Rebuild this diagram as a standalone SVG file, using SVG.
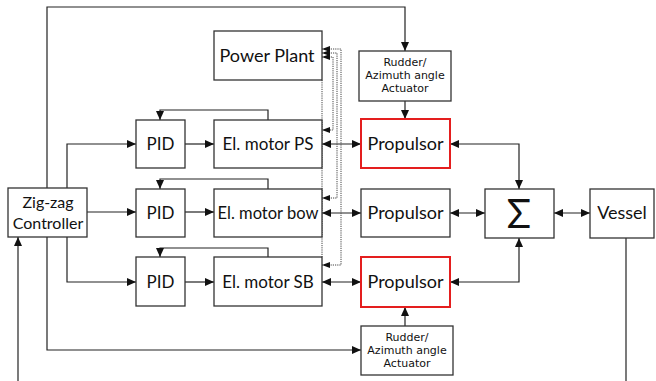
<svg xmlns="http://www.w3.org/2000/svg" width="656" height="381" viewBox="0 0 656 381">
<style>
.box{fill:#fff;stroke:#333;stroke-width:1.3}
.red{fill:#fff;stroke:#e41e1e;stroke-width:2}
.lbl{font-family:Lato,"Open Sans",sans-serif;font-size:17px;fill:#111;text-anchor:middle}
.sm{font-family:"DejaVu Sans",sans-serif;font-size:11px;fill:#111;text-anchor:middle}
.ln{fill:none;stroke:#222;stroke-width:1.2}
.dot{fill:none;stroke:#444;stroke-width:1;stroke-dasharray:1.2,1}
</style>
<defs>
<marker id="a" markerUnits="userSpaceOnUse" markerWidth="10" markerHeight="8" refX="9" refY="4" orient="auto-start-reverse">
<path d="M0,0 L9,4 L0,8 Z" fill="#111"/>
</marker>
<marker id="s" markerUnits="userSpaceOnUse" markerWidth="9" markerHeight="6" refX="8" refY="3" orient="auto-start-reverse">
<path d="M0,0 L8,3 L0,6 Z" fill="#111"/>
</marker>
</defs>
<g id="connectors">
<path class="ln" d="M47,188 V7 H405 V51" marker-end="url(#a)"/>
<path class="ln" d="M47,237 V350 H361" marker-end="url(#a)"/>
<path class="ln" d="M18,381 V237" marker-end="url(#a)"/>
<path class="ln" d="M87,212 H136" marker-end="url(#a)"/>
<path class="ln" d="M67,188 V144 H136" marker-end="url(#a)"/>
<path class="ln" d="M67,237 V282 H136" marker-end="url(#a)"/>
<path class="ln" d="M185,144 H214" marker-end="url(#a)"/>
<path class="ln" d="M185,212 H214" marker-end="url(#a)"/>
<path class="ln" d="M185,282 H214" marker-end="url(#a)"/>
<path class="ln" d="M268,120 V110 H160 V120" marker-end="url(#a)"/>
<path class="ln" d="M268,189 V179 H160 V189" marker-end="url(#a)"/>
<path class="ln" d="M268,257 V248 H160 V257" marker-end="url(#a)"/>
<path class="ln" d="M322,144 H361" marker-start="url(#a)" marker-end="url(#a)"/>
<path class="ln" d="M322,213 H361" marker-start="url(#a)" marker-end="url(#a)"/>
<path class="ln" d="M322,282 H361" marker-start="url(#a)" marker-end="url(#a)"/>
<path class="ln" d="M405,101 V119" marker-end="url(#a)"/>
<path class="ln" d="M405,326 V307" marker-end="url(#a)"/>
<path class="ln" d="M450,144 H519 V189" marker-start="url(#a)" marker-end="url(#a)"/>
<path class="ln" d="M450,213 H485" marker-start="url(#a)" marker-end="url(#a)"/>
<path class="ln" d="M450,282 H519 V238" marker-start="url(#a)" marker-end="url(#a)"/>
<path class="ln" d="M554,213 H590" marker-start="url(#a)" marker-end="url(#a)"/>
<path class="ln" d="M626,238 V381"/>
<path class="dot" d="M322,80 V257"/>
<path class="dot" d="M322,49 H341 V265 H322" marker-start="url(#s)" marker-end="url(#s)"/>
<path class="dot" d="M322,53 H337 V198 H322" marker-start="url(#s)" marker-end="url(#s)"/>
<path class="dot" d="M322,57 H333 V130 H322" marker-start="url(#s)" marker-end="url(#s)"/>
</g>
<g id="controller"><rect class="box" x="8" y="188" width="79" height="49"/><text class="lbl" x="48" y="208" style="font-size:16px">Zig-zag</text><text class="lbl" x="48" y="229" style="font-size:16px">Controller</text></g>
<g id="power-plant"><rect class="box" x="214" y="31" width="108" height="49"/><text class="lbl" x="267" y="62" style="font-size:18px">Power Plant</text></g>
<g id="pid-ps"><rect class="box" x="136" y="120" width="49" height="48"/><text class="lbl" x="160.5" y="150">PID</text></g>
<g id="pid-bow"><rect class="box" x="136" y="189" width="49" height="48"/><text class="lbl" x="160.5" y="219">PID</text></g>
<g id="pid-sb"><rect class="box" x="136" y="257" width="49" height="49"/><text class="lbl" x="160.5" y="288">PID</text></g>
<g id="motor-ps"><rect class="box" x="214" y="120" width="108" height="48"/><text class="lbl" x="268" y="150">El. motor PS</text></g>
<g id="motor-bow"><rect class="box" x="214" y="189" width="108" height="48"/><text class="lbl" x="268" y="219" style="font-size:16.5px">El. motor bow</text></g>
<g id="motor-sb"><rect class="box" x="214" y="257" width="108" height="49"/><text class="lbl" x="268" y="288">El. motor SB</text></g>
<g id="rudder-top"><rect class="box" x="359" y="51" width="92" height="50"/><text class="sm" x="405" y="66">Rudder/</text><text class="sm" x="405" y="79">Azimuth angle</text><text class="sm" x="405" y="92">Actuator</text></g>
<g id="propulsor-ps"><rect class="red" x="361" y="119" width="89" height="49"/><text class="lbl" x="405.5" y="150" style="font-size:18px">Propulsor</text></g>
<g id="propulsor-bow"><rect class="box" x="361" y="189" width="89" height="48"/><text class="lbl" x="405.5" y="219" style="font-size:18px">Propulsor</text></g>
<g id="propulsor-sb"><rect class="red" x="361" y="257" width="89" height="50"/><text class="lbl" x="405.5" y="288" style="font-size:18px">Propulsor</text></g>
<g id="rudder-bottom"><rect class="box" x="361" y="326" width="92" height="49"/><text class="sm" x="407" y="341">Rudder/</text><text class="sm" x="407" y="354">Azimuth angle</text><text class="sm" x="407" y="367">Actuator</text></g>
<g id="sum"><rect class="box" x="485" y="189" width="69" height="49"/><text class="lbl" x="519" y="228" style="font-size:40px">Σ</text></g>
<g id="vessel"><rect class="box" x="590" y="189" width="64" height="49"/><text class="lbl" x="622" y="219" style="font-size:18px">Vessel</text></g>
</svg>
